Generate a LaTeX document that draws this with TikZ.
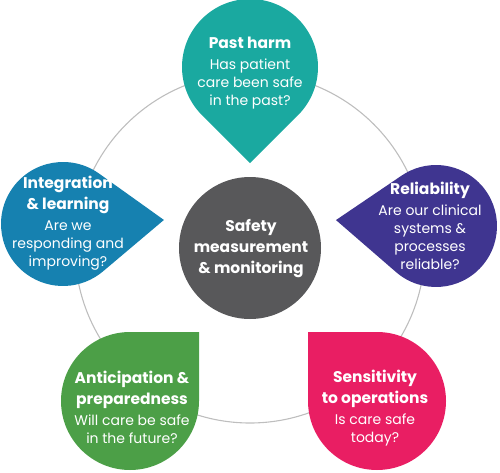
\documentclass[tikz,border=0pt]{standalone}
\usepackage{fontspec}
\setmainfont{Poppins}
\usetikzlibrary{calc}
\definecolor{cteal}{RGB}{26,169,160}
\definecolor{cpurple}{RGB}{63,53,144}
\definecolor{cblue}{RGB}{22,129,176}
\definecolor{cpink}{RGB}{233,30,99}
\definecolor{cgreen}{RGB}{76,159,71}
\definecolor{cgray}{RGB}{88,88,90}
\definecolor{cline}{RGB}{190,190,190}
% #1 colour, #2 cx, #3 cy, #4 radius, #5 tip direction, #6 tip distance
\newcommand\teardrop[6]{%
  \pgfmathsetmacro\tdA{acos(#4/#6)}%
  \fill[#1] ($(#2,#3)+(#5:#6)$) -- ($(#2,#3)+(#5+\tdA:#4)$)
    arc[start angle=#5+\tdA, end angle=#5-\tdA+360, radius=#4] -- cycle;}
\newcommand\ttl[1]{{\fontsize{15.5}{18}\selectfont\bfseries #1}}
\begin{document}
\begin{tikzpicture}[x=1pt,y=1pt,
  lbl/.style={text=white, align=center, inner sep=0pt,
    font=\fontsize{14}{18}\selectfont},
  hub/.style={circle, fill=cgray, minimum size=142pt, inner sep=0pt},
  hubtext/.style={text=white, align=center, inner sep=0pt,
    font=\fontsize{15.5}{21}\selectfont\bfseries}]
\useasboundingbox (0,0) rectangle (500,472);
\draw[cline, line width=1.1pt] (250,224) circle[radius=175];
\node[hub] (hub) at (250,224) {};
\node[hubtext] (hubt) at (251,223.5) {Safety\\ measurement\\ \& monitoring};
\teardrop{cteal}{250}{405}{68}{-90}{96.2}
\teardrop{cpurple}{436}{246}{61}{176.6}{100.2}
\teardrop{cblue}{63}{248}{62}{2.3}{101}
\teardrop{cpink}{377}{71}{69}{135}{97.58}
\teardrop{cgreen}{130}{71}{69}{45}{97.58}
\node[lbl] (past) at (250,399) {\ttl{Past harm}\\[3pt] Has patient\\ care been safe\\ in the past?};
\node[lbl] (rel) at (430,246) {\ttl{Reliability}\\[3pt] Are our clinical\\ systems \&\\ processes\\ reliable?};
\node[lbl] (int) at (68,249) {\ttl{Integration}\\[3pt] \ttl{\& learning}\\[3pt] Are we\\ responding and\\ improving?};
\node[lbl] (sen) at (375,63.5) {\ttl{Sensitivity}\\[3pt] \ttl{to operations}\\[3pt] Is care safe\\ today?};
\node[lbl] (ant) at (132,64.5) {\ttl{Anticipation \&}\\[3pt] \ttl{preparedness}\\[3pt] Will care be safe\\ in the future?};
\end{tikzpicture}
\end{document}
